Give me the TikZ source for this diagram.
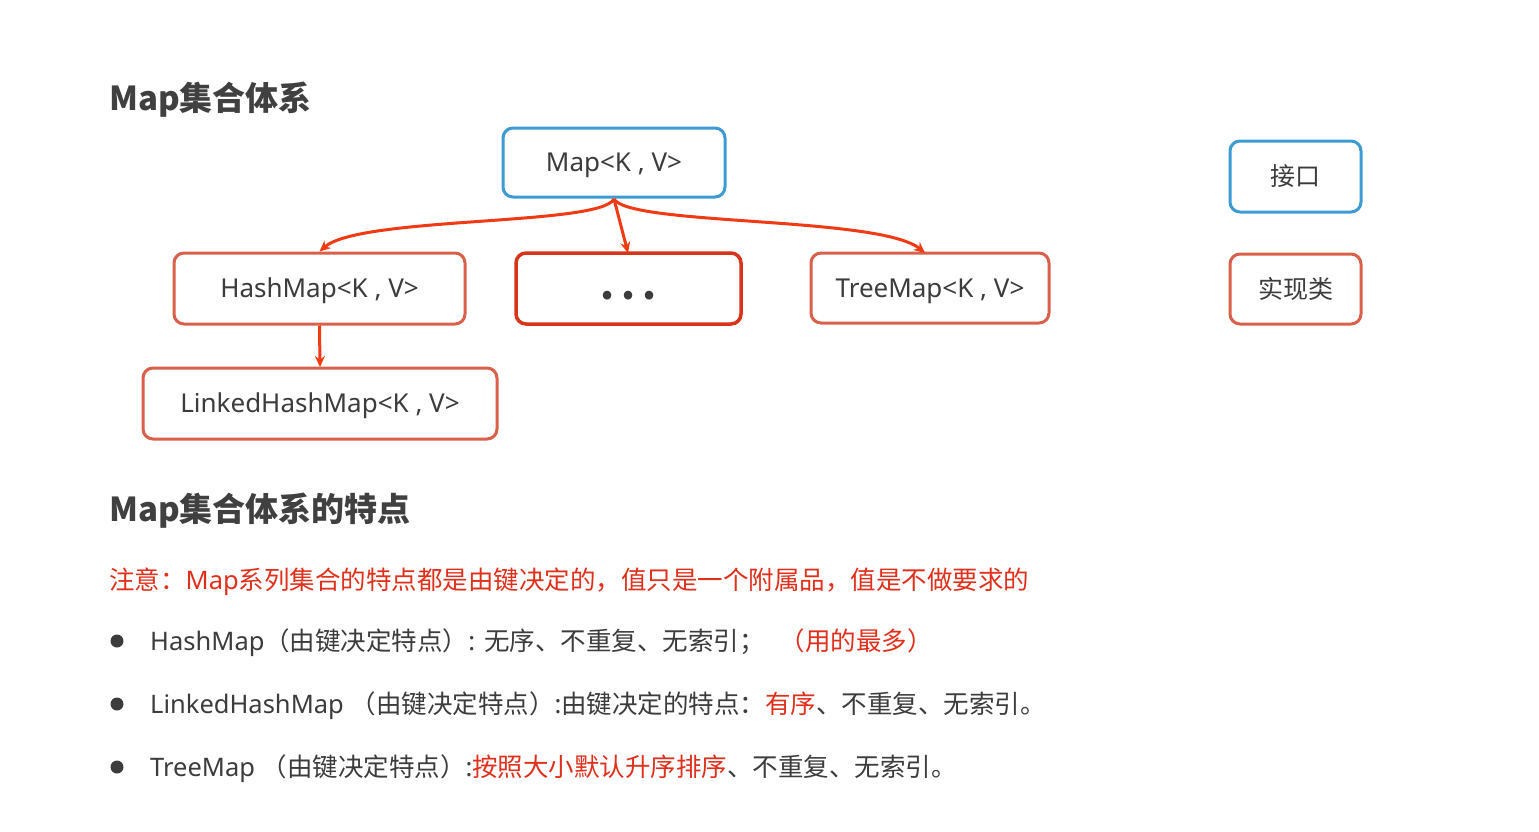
\documentclass[tikz,border=0pt]{standalone}
\usepackage{fontspec}
\setmainfont{Noto Sans}
\newfontfamily\cjk{Noto Sans CJK SC}
\usetikzlibrary{arrows.meta}
\definecolor{txt}{HTML}{3C3C3C}
\definecolor{headc}{HTML}{404040}
\definecolor{ifblue}{HTML}{3C9BD3}
\definecolor{implred}{HTML}{D9604A}
\definecolor{dotred}{HTML}{D8341A}
\definecolor{arr}{HTML}{F03A14}
\definecolor{notered}{HTML}{E0301C}
\tikzset{
  box/.style={draw, rounded corners=10pt, line width=3pt, fill=white, text=txt,
    inner sep=0pt, font=\fontsize{26}{30}\selectfont, text height=18.7pt, text depth=0pt},
  ifbox/.style={box, draw=ifblue},
  implbox/.style={box, draw=implred},
  cjkbox/.style={font=\fontsize{25}{30}\selectfont\cjk, text height=18pt},
  link/.style={draw=arr, line width=3pt, -{Stealth[length=11pt,width=10pt]}},
  heading/.style={anchor=west, text=headc, inner sep=0pt, font=\fontsize{33}{38}\selectfont\cjk\bfseries},
  bodytext/.style={anchor=base west, text=txt, inner sep=0pt, font=\fontsize{25.5}{30}\selectfont},
  bullet/.style={circle, fill=txt, inner sep=0pt, minimum size=13pt}
}
\begin{document}
\begin{tikzpicture}[x=1pt,y=-1pt]
\useasboundingbox[fill=white] (0,0) rectangle (1539,831);

\node[heading] (h1) at (109,100) {Map集合体系};

\node[ifbox, minimum width=222pt, minimum height=69pt] (map) at (614,162.5) {Map<K , V>};
\node[implbox, minimum width=291pt, minimum height=71pt] (hash) at (319.5,288.5) {HashMap<K , V>};
\node[box, draw=dotred, line width=3.5pt, minimum width=225pt, minimum height=71pt] (dots) at (628.5,288.5) {\raisebox{-2pt}{\fontsize{40}{40}\selectfont\cjk\bfseries .\hspace{7pt}.\hspace{7pt}.}};
\node[implbox, minimum width=238pt, minimum height=70pt] (tree) at (930,288) {TreeMap<K , V>};
\node[implbox, minimum width=354pt, minimum height=71pt] (linked) at (320,403.5) {LinkedHashMap<K , V>};

\node[ifbox, cjkbox, minimum width=131pt, minimum height=71pt] (iface) at (1295.5,176.5) {接口};
\node[implbox, cjkbox, minimum width=131pt, minimum height=70pt] (impl) at (1295.5,289) {实现类};

\coordinate (src) at (614,199);
\draw[link] (src) .. controls (600,226) and (360,216) .. (hash.north);
\draw[link] (src) -- (628,253);
\draw[link] (src) .. controls (630,226) and (880,216) .. (925,253);
\draw[link] (hash.south) -- (320,367);

\node[heading] (h2) at (109,511) {Map集合体系的特点};

\node[bodytext, text=notered] (note) at (109,589) {{\cjk 注意：}Map{\cjk 系列集合的特点都是由键决定的，值只是一个附属品，值是不做要求的}};

\node[bullet] (b1) at (117,641) {};
\node[bodytext] (l1) at (150,650) {HashMap{\cjk （由键决定特点）}: {\cjk 无序、不重复、无索引；}\hspace{0.6em}\textcolor{notered}{\cjk （用的最多）}};
\node[bullet] (b2) at (117,704) {};
\node[bodytext] (l2) at (150,713) {LinkedHashMap {\cjk （由键决定特点）}:{\cjk 由键决定的特点：}\textcolor{notered}{\cjk 有序}{\cjk 、不重复、无索引。}};
\node[bullet] (b3) at (117,767) {};
\node[bodytext] (l3) at (150,776) {TreeMap {\cjk （由键决定特点）}:\textcolor{notered}{\cjk 按照大小默认升序排序}{\cjk 、不重复、无索引。}};
\end{tikzpicture}
\end{document}
